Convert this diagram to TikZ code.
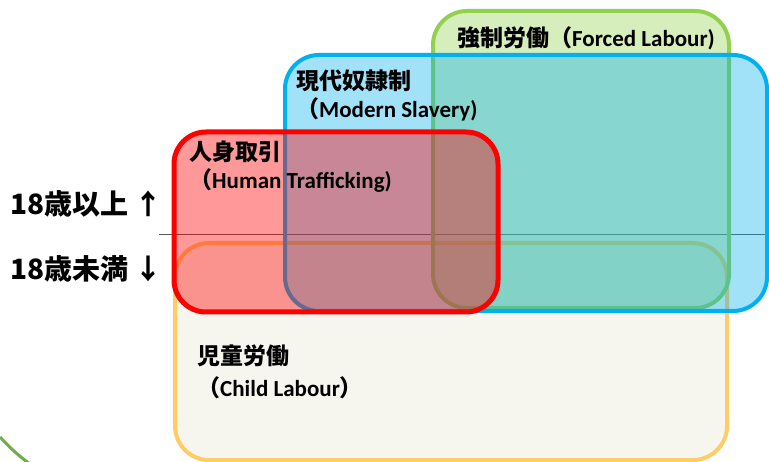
\documentclass[tikz,border=0pt]{standalone}
\usepackage{fontspec}
\setmainfont{Carlito}
\newfontfamily\cjk{Noto Sans CJK JP}
\definecolor{cgreen}{HTML}{92D050}
\definecolor{cblue}{HTML}{00B0F0}
\definecolor{cred}{HTML}{FF0000}
\definecolor{corange}{HTML}{FFCC66}
\definecolor{cbeige}{HTML}{F7F6EE}
\definecolor{carc}{HTML}{70AD47}
\definecolor{cline}{HTML}{595959}
\tikzset{
  lbl/.style={anchor=base west, inner sep=0pt, font=\fontsize{23}{27}\selectfont\bfseries},
  agelbl/.style={anchor=base west, inner sep=0pt, font=\fontsize{28}{32}\selectfont\cjk\bfseries},
  setbox/.style={rounded corners=34pt, line width=4pt},
}
\begin{document}
\begin{tikzpicture}[x=1pt,y=-1pt]
\useasboundingbox (0,0) rectangle (769,462);
% age divider line
\coordinate (l0) at (159,235);
\coordinate (l1) at (769,235);
\draw[cline, line width=1pt] (l0) -- (l1);
% child labour
\draw[setbox, draw=corange, fill=cbeige] (175,243) rectangle (727,460);
% forced labour
\draw[setbox, draw=cgreen, fill=cgreen, fill opacity=0.38] (433,11) rectangle (729,308);
% modern slavery
\draw[setbox, draw=cblue, fill=cblue, fill opacity=0.37] (285,55) rectangle (767,311);
% human trafficking
\draw[setbox, rounded corners=32pt, line width=5pt, draw=cred, fill=cred, fill opacity=0.4] (174,132) rectangle (498,312);
% decorative arc
\draw[carc, line width=3pt] (0,437) .. controls (11,449) and (19,456) .. (30,464);
% labels
\node[lbl] (fl) at (457,47) {{\cjk 強制労働（}Forced Labour)};
\node[lbl] (ms1) at (296,90) {\cjk 現代奴隷制};
\node[lbl] (ms2) at (296,118) {{\cjk （}Modern Slavery)};
\node[lbl] (ht1) at (189,161) {\cjk 人身取引};
\node[lbl] (ht2) at (189,189) {{\cjk （}Human Trafficking)};
\node[lbl] (cl1) at (197,365) {\cjk 児童労働};
\node[lbl] (cl2) at (197,397) {{\cjk （}Child Labour{\cjk ）}};
\node[agelbl] (over) at (10,215) {18歳以上 ↑};
\node[agelbl] (under) at (10,280) {18歳未満 ↓};
\end{tikzpicture}
\end{document}
